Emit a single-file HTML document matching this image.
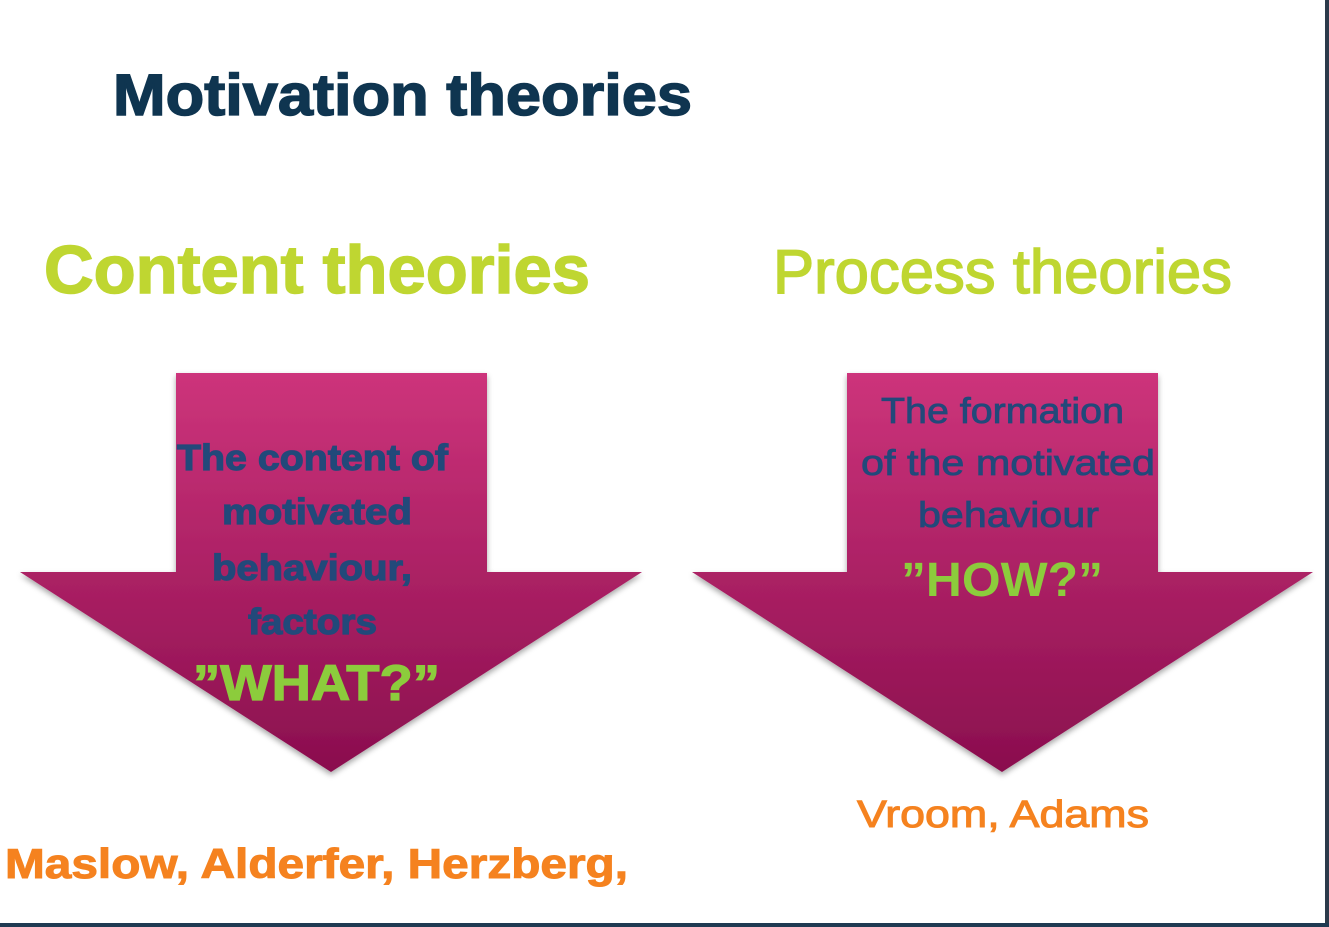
<!DOCTYPE html>
<html><head><meta charset="utf-8"><style>html,body{margin:0;padding:0;background:#fff;}svg{display:block;}</style></head>
<body>
<svg width="1329" height="927" viewBox="0 0 1329 927" xmlns="http://www.w3.org/2000/svg" font-family="Liberation Sans, sans-serif">
<defs>
<linearGradient id="g" x1="0" y1="0" x2="0" y2="1">
<stop offset="0" stop-color="#cd347b"/><stop offset="1" stop-color="#8a0e4e"/>
</linearGradient>
<filter id="s" x="-10%" y="-10%" width="120%" height="120%"><feDropShadow dx="0" dy="3" stdDeviation="3" flood-color="#000" flood-opacity="0.35"/></filter>
</defs>
<rect width="1329" height="927" fill="#fff"/>
<rect x="1325" y="0" width="4" height="927" fill="#2b3a4a"/>
<rect x="0" y="923" width="1329" height="4" fill="#1f3a52"/>
<text x="113" y="115" font-size="58" font-weight="bold" fill="#0f3550" stroke="#0f3550" stroke-width="1.5" textLength="579" lengthAdjust="spacingAndGlyphs">Motivation theories</text>
<text x="44" y="293" font-size="68" font-weight="bold" fill="#bfd631" stroke="#bfd631" stroke-width="1.5" textLength="546" lengthAdjust="spacingAndGlyphs">Content theories</text>
<text x="773" y="293" font-size="62" fill="#bfd631" stroke="#bfd631" stroke-width="1.5" textLength="459" lengthAdjust="spacingAndGlyphs">Process theories</text>
<polygon points="176,373 487,373 487,572 642,572 331,772 20,572 176,572" fill="url(#g)" filter="url(#s)"/>
<polygon points="847,373 1158,373 1158,572 1313,572 1002,772 692,572 847,572" fill="url(#g)" filter="url(#s)"/>
<g font-weight="bold" fill="#22497a" stroke="#22497a" stroke-width="1.2" font-size="36">
<text x="177" y="470" textLength="271" lengthAdjust="spacingAndGlyphs">The content of</text>
<text x="222" y="524" textLength="190" lengthAdjust="spacingAndGlyphs">motivated</text>
<text x="212" y="580" textLength="200" lengthAdjust="spacingAndGlyphs">behaviour,</text>
<text x="248" y="634" textLength="129" lengthAdjust="spacingAndGlyphs">factors</text>
</g>
<text x="193" y="700" font-size="50" font-weight="bold" fill="#8ccc3c" stroke="#8ccc3c" stroke-width="1.2" textLength="247" lengthAdjust="spacingAndGlyphs">”WHAT?”</text>
<g fill="#22497a" stroke="#22497a" stroke-width="0.8" font-size="36">
<text x="881" y="423" textLength="243" lengthAdjust="spacingAndGlyphs">The formation</text>
<text x="861" y="475" textLength="294" lengthAdjust="spacingAndGlyphs">of the motivated</text>
<text x="918" y="527" textLength="181" lengthAdjust="spacingAndGlyphs">behaviour</text>
</g>
<text x="901" y="596" font-size="48" font-weight="bold" fill="#8ccc3c" textLength="202" lengthAdjust="spacingAndGlyphs">”HOW?”</text>
<text x="857" y="827" font-size="38" fill="#f5821f" stroke="#f5821f" stroke-width="1" textLength="292" lengthAdjust="spacingAndGlyphs">Vroom, Adams</text>
<text x="5" y="878" font-size="42" font-weight="bold" fill="#f5821f" stroke="#f5821f" stroke-width="1" textLength="623" lengthAdjust="spacingAndGlyphs">Maslow, Alderfer, Herzberg,</text>
</svg>
</body></html>
